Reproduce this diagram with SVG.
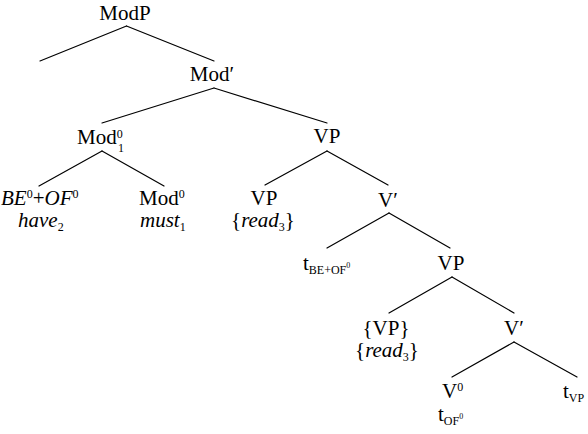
<svg xmlns="http://www.w3.org/2000/svg" width="588" height="434" viewBox="0 0 588 434">
<rect width="588" height="434" fill="#fff"/>
<g id="edges" stroke="#000" stroke-width="1.2" stroke-linecap="round">
<line x1="126.5" y1="26" x2="40" y2="61"/>
<line x1="126.5" y1="26" x2="214" y2="61"/>
<line x1="214" y1="88" x2="102" y2="123"/>
<line x1="214" y1="88" x2="327" y2="123"/>
<line x1="102" y1="151" x2="39" y2="186"/>
<line x1="102" y1="151" x2="164" y2="186"/>
<line x1="327" y1="151" x2="265" y2="185"/>
<line x1="327" y1="151" x2="388" y2="185"/>
<line x1="389" y1="213" x2="327" y2="248"/>
<line x1="389" y1="213" x2="450" y2="248"/>
<line x1="452" y1="277" x2="389" y2="313"/>
<line x1="452" y1="277" x2="514" y2="313"/>
<line x1="514" y1="342" x2="452" y2="377"/>
<line x1="514" y1="342" x2="577" y2="377"/>
</g>
<g id="modp"><text font-family="Liberation Serif" font-size="21" text-anchor="middle" x="125" y="20">ModP</text></g>
<g id="modbar"><text font-family="Liberation Serif" font-size="21" text-anchor="middle" x="212" y="81">Mod&#8242;</text></g>
<g id="mod01"><text font-family="Liberation Serif" font-size="21" x="77" y="144">Mod<tspan font-size="12" dy="-6">0</tspan></text><text font-family="Liberation Serif" font-size="12" x="118" y="152">1</text></g>
<g id="beof">
<text font-family="Liberation Serif" font-size="21" x="1" y="205"><tspan font-style="italic">BE</tspan><tspan font-size="12" dy="-7">0</tspan><tspan dy="7">+</tspan><tspan font-style="italic">OF</tspan><tspan font-size="12" dy="-7">0</tspan></text>
<text font-family="Liberation Serif" font-size="21" x="18" y="227"><tspan font-style="italic">have</tspan><tspan font-size="12" dy="4">2</tspan></text>
</g>
<g id="mod0">
<text font-family="Liberation Serif" font-size="21" x="139" y="205">Mod<tspan font-size="12" dy="-7">0</tspan></text>
<text font-family="Liberation Serif" font-size="21" x="140" y="227"><tspan font-style="italic">must</tspan><tspan font-size="12" dy="4">1</tspan></text>
</g>
<g id="vp1"><text font-family="Liberation Serif" font-size="21" text-anchor="middle" x="327" y="143">VP</text></g>
<g id="vp-spec">
<text font-family="Liberation Serif" font-size="21" text-anchor="middle" x="264" y="205">VP</text>
<text font-family="Liberation Serif" font-size="21" text-anchor="middle" x="263" y="227">{<tspan font-style="italic">read</tspan><tspan font-size="12" dy="4">3</tspan><tspan dy="-4">}</tspan></text>
</g>
<g id="vbar1"><text font-family="Liberation Serif" font-size="21" text-anchor="middle" x="388" y="207">V&#8242;</text></g>
<g id="t-beof">
<text font-family="Liberation Serif" font-size="21" x="303" y="270">t<tspan font-size="12" dy="4">BE+OF</tspan><tspan font-size="8" dy="-6">0</tspan></text>
</g>
<g id="vp2"><text font-family="Liberation Serif" font-size="21" text-anchor="middle" x="451" y="270">VP</text></g>
<g id="vp-spec2">
<text font-family="Liberation Serif" font-size="21" text-anchor="middle" x="386" y="335">{VP}</text>
<text font-family="Liberation Serif" font-size="21" text-anchor="middle" x="387" y="357">{<tspan font-style="italic">read</tspan><tspan font-size="12" dy="4">3</tspan><tspan dy="-4">}</tspan></text>
</g>
<g id="vbar2"><text font-family="Liberation Serif" font-size="21" text-anchor="middle" x="514" y="335">V&#8242;</text></g>
<g id="v0">
<text font-family="Liberation Serif" font-size="21" x="442" y="398">V<tspan font-size="12" dy="-7">0</tspan></text>
<text font-family="Liberation Serif" font-size="21" x="438" y="421">t<tspan font-size="12" dy="4">OF</tspan><tspan font-size="8" dy="-6">0</tspan></text>
</g>
<g id="tvp"><text font-family="Liberation Serif" font-size="21" x="563" y="398">t<tspan font-size="12" dy="4">VP</tspan></text></g>
</svg>
